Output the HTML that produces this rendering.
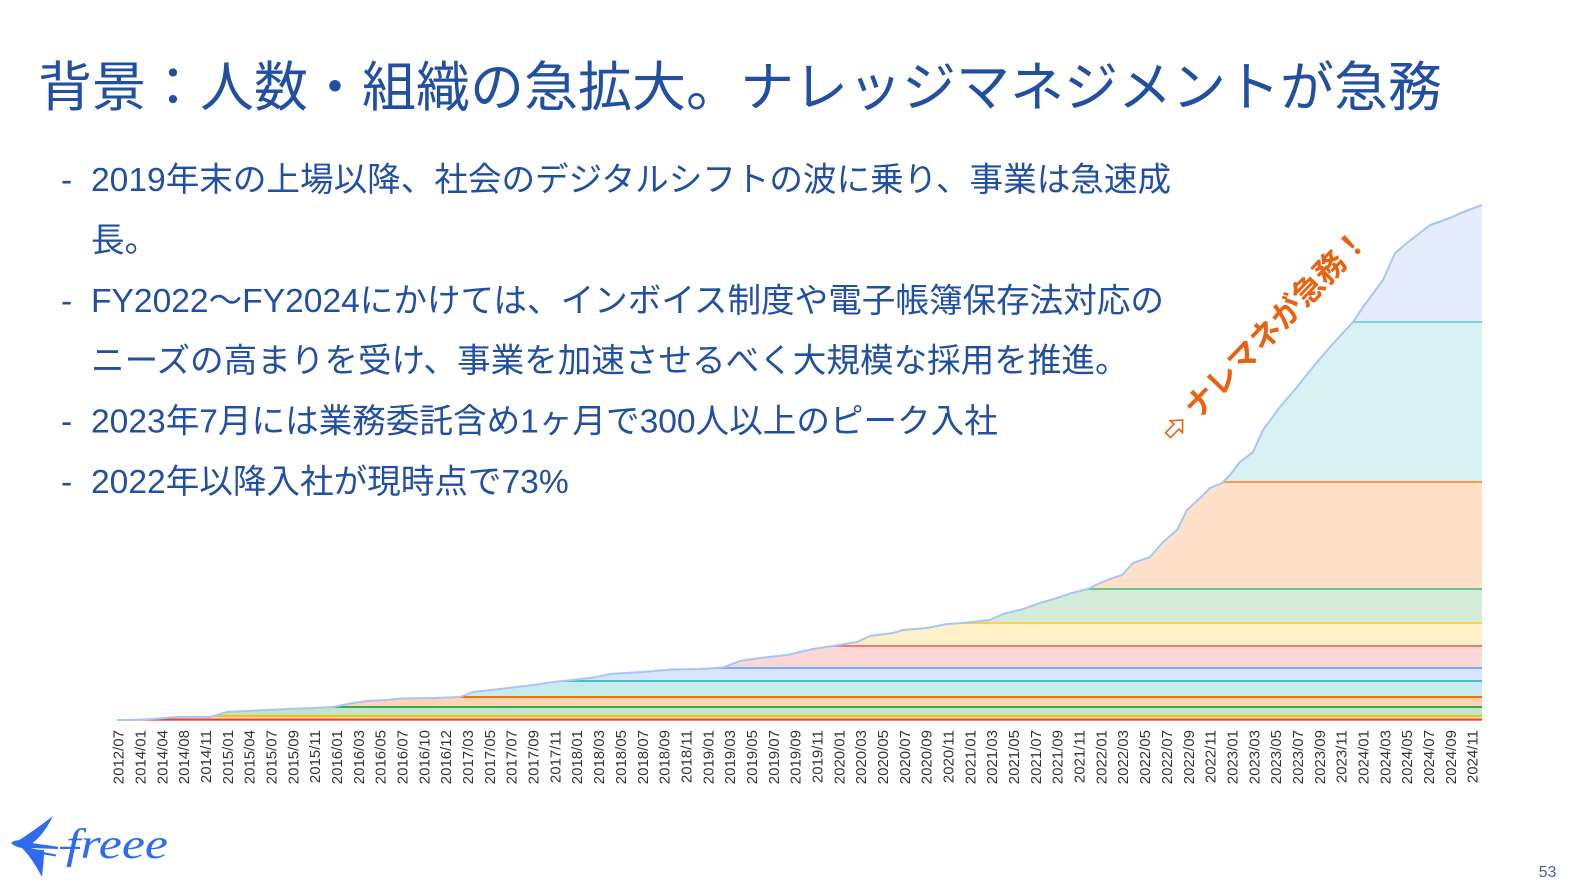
<!DOCTYPE html>
<html>
<head>
<meta charset="utf-8">
<style>
html,body{margin:0;padding:0;background:#fff;}
svg{display:block;}
.jp{font-family:"Liberation Sans","Noto Sans CJK JP",sans-serif;}
.ax{font-family:"Liberation Sans",sans-serif;font-size:15px;fill:#333333;}
</style>
</head>
<body>
<svg width="1570" height="894" viewBox="0 0 1570 894" xmlns="http://www.w3.org/2000/svg">
<rect width="1570" height="894" fill="#ffffff"/>

<!-- Title -->
<text class="jp" x="38" y="106" font-size="54" fill="#2150a3">背景：人数・組織の急拡大。ナレッジマネジメントが急務</text>

<!-- Bullets -->
<g class="jp" font-size="33.6" fill="#2150a3">
<text x="61" y="191">-</text>
<text x="91" y="191">2019年末の上場以降、社会のデジタルシフトの波に乗り、事業は急速成</text>
<text x="91" y="251.4">長。</text>
<text x="61" y="311.8">-</text>
<text x="91" y="311.8">FY2022〜FY2024にかけては、インボイス制度や電子帳簿保存法対応の</text>
<text x="91" y="372.2">ニーズの高まりを受け、事業を加速させるべく大規模な採用を推進。</text>
<text x="61" y="432.6">-</text>
<text x="91" y="432.6">2023年7月には業務委託含め1ヶ月で300人以上のピーク入社</text>
<text x="61" y="493">-</text>
<text x="91" y="493">2022年以降入社が現時点で73%</text>
</g>

<!-- Chart -->
<defs>
<clipPath id="under">
<polygon points="117,720 133,720 153,719 177,717 210,717 217,715 227,712 267,710 287,709 313,708 333,707 353,703 367,701 387,700 400,698.5 433,698 460,697 473,692 500,689 533,685 553,682 573,680 597,677 610,674 643,672 670,669.5 700,669 723,667.5 740,661 760,658 787,655 813,649 833,646 857,642 870,636 893,633 903,630 927,628 947,624 963,623 990,620 1003,614 1023,609 1040,603 1057,598 1072,593 1088,589 1100,583 1110,579 1122,575 1133,563 1150,557 1163,542 1177,530 1187,510 1200,498 1210,488 1222,483 1230,475 1240,462 1253,452 1263,430 1280,407 1297,387 1313,367 1330,347 1353,322 1363,307 1383,280 1395,253 1407,243 1430,225 1450,218 1463,212 1482,205 1482,721 117,721"/>
</clipPath>
</defs>

<g clip-path="url(#under)">
<rect x="117" y="195" width="1365" height="127" fill="#e5edfc"/>
<rect x="117" y="322" width="1365" height="160" fill="#d8f1f3"/>
<rect x="117" y="482" width="1365" height="107" fill="#ffe1ca"/>
<rect x="117" y="589" width="1365" height="34" fill="#d4edda"/>
<rect x="117" y="623" width="1365" height="23" fill="#fef1ca"/>
<rect x="117" y="646" width="1365" height="22" fill="#fbd8d5"/>
<rect x="117" y="668" width="1365" height="13" fill="#d7e5fd"/>
<rect x="117" y="681" width="1365" height="16" fill="#c8ebee"/>
<rect x="117" y="697" width="1365" height="10" fill="#ffd3b3"/>
<rect x="117" y="707" width="1365" height="9" fill="#c2e5cb"/>
<rect x="117" y="716" width="1365" height="3" fill="#feebb3"/>
<rect x="117" y="719" width="1365" height="2" fill="#f9c6c2"/>
<g stroke-width="2" fill="none">
<line x1="117" y1="322" x2="1482" y2="322" stroke="#7ed1d7"/>
<line x1="117" y1="482" x2="1482" y2="482" stroke="#ff994d"/>
<line x1="117" y1="589" x2="1482" y2="589" stroke="#71c287"/>
<line x1="117" y1="623" x2="1482" y2="623" stroke="#fcd04f"/>
<line x1="117" y1="646" x2="1482" y2="646" stroke="#f07b72"/>
<line x1="117" y1="668" x2="1482" y2="668" stroke="#7baaf7"/>
<line x1="117" y1="681" x2="1482" y2="681" stroke="#46bdc6"/>
<line x1="117" y1="697" x2="1482" y2="697" stroke="#ff6d01"/>
<line x1="117" y1="707" x2="1482" y2="707" stroke="#34a853"/>
<line x1="117" y1="716" x2="1482" y2="716" stroke="#fbbc04"/>
<line x1="117" y1="719.5" x2="1482" y2="719.5" stroke="#ea4335"/>
</g>
</g>
<polyline fill="none" stroke="#a8c5f6" stroke-width="2" stroke-linejoin="round" points="117,720 133,720 153,719 177,717 210,717 217,715 227,712 267,710 287,709 313,708 333,707 353,703 367,701 387,700 400,698.5 433,698 460,697 473,692 500,689 533,685 553,682 573,680 597,677 610,674 643,672 670,669.5 700,669 723,667.5 740,661 760,658 787,655 813,649 833,646 857,642 870,636 893,633 903,630 927,628 947,624 963,623 990,620 1003,614 1023,609 1040,603 1057,598 1072,593 1088,589 1100,583 1110,579 1122,575 1133,563 1150,557 1163,542 1177,530 1187,510 1200,498 1210,488 1222,483 1230,475 1240,462 1253,452 1263,430 1280,407 1297,387 1313,367 1330,347 1353,322 1363,307 1383,280 1395,253 1407,243 1430,225 1450,218 1463,212 1482,205"/>

<!-- X axis labels -->
<g class="ax" text-anchor="end">
<text transform="translate(123.6,730) rotate(-90)">2012/07</text>
<text transform="translate(145.4,730) rotate(-90)">2014/01</text>
<text transform="translate(167.3,730) rotate(-90)">2014/04</text>
<text transform="translate(189.1,730) rotate(-90)">2014/08</text>
<text transform="translate(211.0,730) rotate(-90)">2014/11</text>
<text transform="translate(232.8,730) rotate(-90)">2015/01</text>
<text transform="translate(254.6,730) rotate(-90)">2015/04</text>
<text transform="translate(276.5,730) rotate(-90)">2015/07</text>
<text transform="translate(298.3,730) rotate(-90)">2015/09</text>
<text transform="translate(320.2,730) rotate(-90)">2015/11</text>
<text transform="translate(342.0,730) rotate(-90)">2016/01</text>
<text transform="translate(363.8,730) rotate(-90)">2016/03</text>
<text transform="translate(385.7,730) rotate(-90)">2016/05</text>
<text transform="translate(407.5,730) rotate(-90)">2016/07</text>
<text transform="translate(429.4,730) rotate(-90)">2016/10</text>
<text transform="translate(451.2,730) rotate(-90)">2016/12</text>
<text transform="translate(473.0,730) rotate(-90)">2017/03</text>
<text transform="translate(494.9,730) rotate(-90)">2017/05</text>
<text transform="translate(516.7,730) rotate(-90)">2017/07</text>
<text transform="translate(538.6,730) rotate(-90)">2017/09</text>
<text transform="translate(560.4,730) rotate(-90)">2017/11</text>
<text transform="translate(582.2,730) rotate(-90)">2018/01</text>
<text transform="translate(604.1,730) rotate(-90)">2018/03</text>
<text transform="translate(625.9,730) rotate(-90)">2018/05</text>
<text transform="translate(647.8,730) rotate(-90)">2018/07</text>
<text transform="translate(669.6,730) rotate(-90)">2018/09</text>
<text transform="translate(691.4,730) rotate(-90)">2018/11</text>
<text transform="translate(713.3,730) rotate(-90)">2019/01</text>
<text transform="translate(735.1,730) rotate(-90)">2019/03</text>
<text transform="translate(757.0,730) rotate(-90)">2019/05</text>
<text transform="translate(778.8,730) rotate(-90)">2019/07</text>
<text transform="translate(800.6,730) rotate(-90)">2019/09</text>
<text transform="translate(822.5,730) rotate(-90)">2019/11</text>
<text transform="translate(844.3,730) rotate(-90)">2020/01</text>
<text transform="translate(866.2,730) rotate(-90)">2020/03</text>
<text transform="translate(888.0,730) rotate(-90)">2020/05</text>
<text transform="translate(909.8,730) rotate(-90)">2020/07</text>
<text transform="translate(931.7,730) rotate(-90)">2020/09</text>
<text transform="translate(953.5,730) rotate(-90)">2020/11</text>
<text transform="translate(975.4,730) rotate(-90)">2021/01</text>
<text transform="translate(997.2,730) rotate(-90)">2021/03</text>
<text transform="translate(1019.0,730) rotate(-90)">2021/05</text>
<text transform="translate(1040.9,730) rotate(-90)">2021/07</text>
<text transform="translate(1062.7,730) rotate(-90)">2021/09</text>
<text transform="translate(1084.6,730) rotate(-90)">2021/11</text>
<text transform="translate(1106.4,730) rotate(-90)">2022/01</text>
<text transform="translate(1128.2,730) rotate(-90)">2022/03</text>
<text transform="translate(1150.1,730) rotate(-90)">2022/05</text>
<text transform="translate(1171.9,730) rotate(-90)">2022/07</text>
<text transform="translate(1193.8,730) rotate(-90)">2022/09</text>
<text transform="translate(1215.6,730) rotate(-90)">2022/11</text>
<text transform="translate(1237.4,730) rotate(-90)">2023/01</text>
<text transform="translate(1259.3,730) rotate(-90)">2023/03</text>
<text transform="translate(1281.1,730) rotate(-90)">2023/05</text>
<text transform="translate(1303.0,730) rotate(-90)">2023/07</text>
<text transform="translate(1324.8,730) rotate(-90)">2023/09</text>
<text transform="translate(1346.6,730) rotate(-90)">2023/11</text>
<text transform="translate(1368.5,730) rotate(-90)">2024/01</text>
<text transform="translate(1390.3,730) rotate(-90)">2024/03</text>
<text transform="translate(1412.2,730) rotate(-90)">2024/05</text>
<text transform="translate(1434.0,730) rotate(-90)">2024/07</text>
<text transform="translate(1455.8,730) rotate(-90)">2024/09</text>
<text transform="translate(1477.7,730) rotate(-90)">2024/11</text>
</g>

<!-- Annotation -->
<g transform="translate(1175,428) rotate(-46)">
<path d="M-10,-3.5 L2,-3.5 L2,-8.5 L11,0 L2,8.5 L2,3.5 L-10,3.5 Z" fill="#ffffff" stroke="#e8620f" stroke-width="1.6" stroke-linejoin="miter"/>
<text class="jp" x="21.5" y="11" font-size="31" font-weight="bold" fill="#e8620f">ナレマネが急務！</text>
</g>

<!-- freee logo -->
<g fill="#2d6cf0">
<path d="M16,842 C26,836 40,826 53,816 C47,828 40,838 30,845 Z"/>
<path d="M22,845 C30,848 36,850 44,850 C44,860 43,868 42,877 C36,866 30,856 22,848 Z"/>
<path d="M11,843 C15,839.5 22,839.5 28,842.5 L58,846.8 L58,849 L30,848 C22,849 15,847 11,843 Z"/>
<path d="M32,850 L56,854.5 L56,856.5 L32,852.5 Z"/>
<rect x="60" y="846.8" width="20" height="2.2"/>
<text x="66" y="858" font-family="Liberation Serif" font-style="italic" font-size="42" textLength="102" lengthAdjust="spacingAndGlyphs">freee</text>
</g>

<!-- page number -->
<text x="1547.5" y="877" text-anchor="middle" font-family="Liberation Sans" font-size="16" fill="#4a5fa8">53</text>
</svg>
</body>
</html>
